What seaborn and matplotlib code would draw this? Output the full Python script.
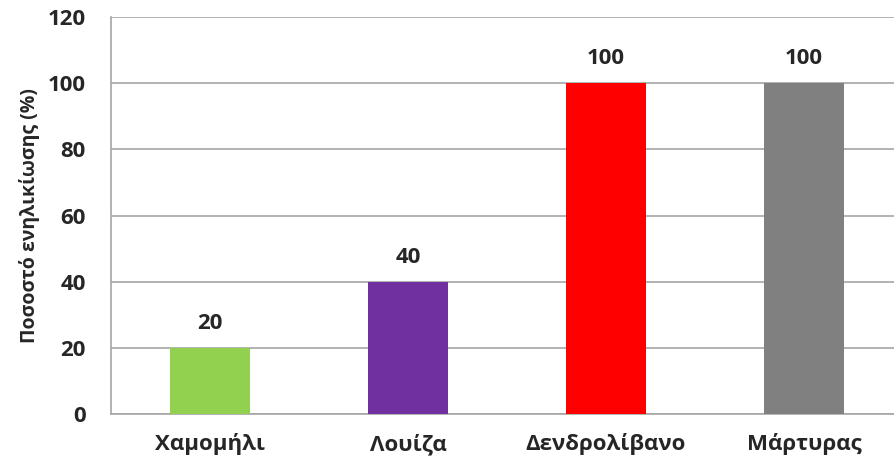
import pandas as pd
import matplotlib
matplotlib.use("Agg")
import matplotlib.pyplot as plt
import seaborn as sns

# Data
herbs = ["Χαμομήλι", "Λουίζα", "Δενδρολίβανο", "Μάρτυρας"]
adult_pct = [20, 40, 100, 100]
bar_colors = ["#92D050", "#7030A0", "#FF0000", "#808080"]

df = pd.DataFrame({"herb": herbs, "pct": adult_pct})

sns.set_style("white")
plt.rcParams["font.family"] = ["Open Sans", "DejaVu Sans"]
plt.rcParams["font.weight"] = "bold"

fig = plt.figure(figsize=(8.95, 4.67), dpi=100)
# plot area runs a bit past the right edge, like the cropped original
ax = fig.add_axes([111 / 895, 53 / 467, 792 / 895, 397 / 467])

sns.barplot(data=df, x="herb", y="pct", hue="herb", palette=bar_colors,
            width=0.4, saturation=1, legend=False, ax=ax, zorder=3,
            linewidth=0)

ax.set_ylim(0, 120)
ax.set_yticks(range(0, 121, 20))
ax.grid(axis="y", color="#A6A6A6", linewidth=1.2, zorder=0)
ax.set_axisbelow(True)

for sp in ["top", "right"]:
    ax.spines[sp].set_visible(False)
for sp in ["left", "bottom"]:
    ax.spines[sp].set_color("#A6A6A6")
    ax.spines[sp].set_linewidth(1.2)

ax.tick_params(axis="y", length=0, pad=18, labelsize=16)
ax.tick_params(axis="x", length=0, pad=14, labelsize=16)
for lbl in ax.get_xticklabels() + ax.get_yticklabels():
    lbl.set_fontweight("bold")

ax.set_xlabel("")
ax.set_ylabel("Ποσοστό ενηλικίωσης (%)", fontsize=14, fontweight="bold", labelpad=6)

# value labels above bars
for i, v in enumerate(adult_pct):
    ax.annotate(str(v), (i, v), xytext=(0, 10), textcoords="offset points",
                ha="center", va="bottom", fontsize=16, fontweight="bold")

fig.savefig("out.png", dpi=100)
